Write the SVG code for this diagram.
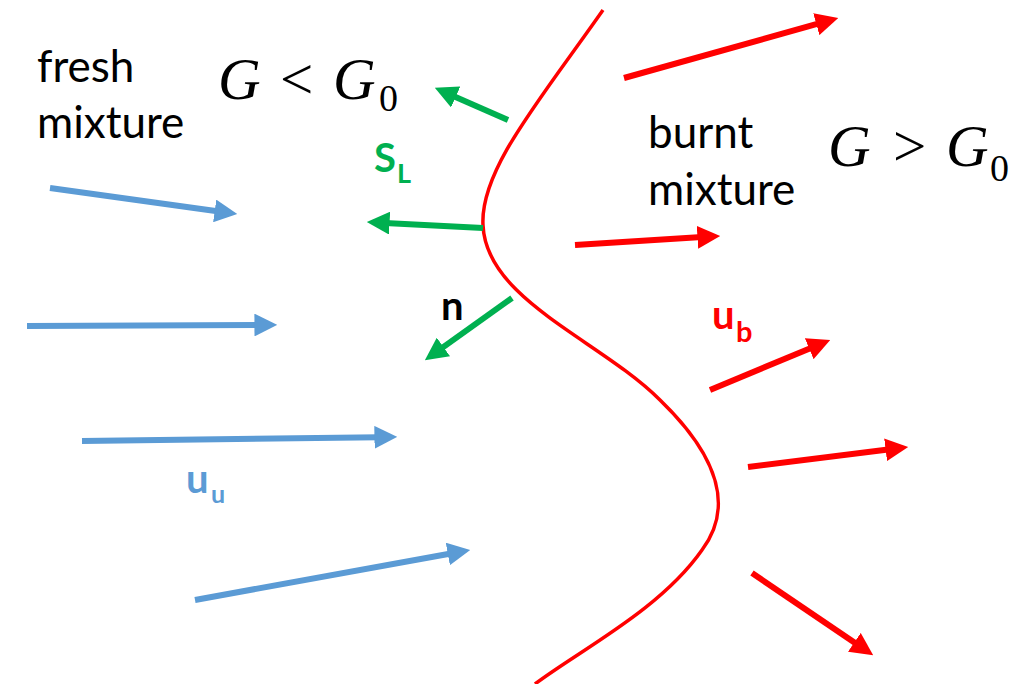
<svg xmlns="http://www.w3.org/2000/svg" width="1036" height="684" viewBox="0 0 1036 684">
<style>
.lbl{font-family:Lato,"Open Sans",sans-serif;font-size:44px;fill:#000}
.math{font-family:"Liberation Serif",serif;fill:#000;font-size:59px}
.it{font-style:italic}
.sub{font-size:38px}
.b{stroke:#5B9BD5;stroke-width:6;fill:none}
.g{stroke:#00B050;stroke-width:6;fill:none}
.r{stroke:#FF0000;stroke-width:6;fill:none}
.bold{font-family:Lato,"Open Sans",sans-serif;font-weight:bold}
</style>
<defs>
<marker id="hb" viewBox="0 0 10 10" refX="2" refY="5" markerWidth="3.8" markerHeight="3.8" orient="auto" markerUnits="strokeWidth"><path d="M0,0 L10,5 L0,10 z" fill="#5B9BD5"/></marker>
<marker id="hg" viewBox="0 0 10 10" refX="2" refY="5" markerWidth="3.8" markerHeight="3.8" orient="auto" markerUnits="strokeWidth"><path d="M0,0 L10,5 L0,10 z" fill="#00B050"/></marker>
<marker id="hr" viewBox="0 0 10 10" refX="2" refY="5" markerWidth="3.8" markerHeight="3.8" orient="auto" markerUnits="strokeWidth"><path d="M0,0 L10,5 L0,10 z" fill="#FF0000"/></marker>
</defs>
<rect width="1036" height="684" fill="#fff"/>
<g id="flame-front">
<path d="M603,10 C540,100 480,170 483,225 C486,300 600,340 660,400 C722,460 732,510 702,550 C660,610 580,650 535,684" fill="none" stroke="#FF0000" stroke-width="3.5"/>
</g>
<g id="connectors">
<line class="b" x1="50" y1="188" x2="219.2" y2="211.5" marker-end="url(#hb)"/>
<line class="b" x1="27" y1="326" x2="259" y2="325" marker-end="url(#hb)"/>
<line class="b" x1="82" y1="441" x2="379" y2="437.2" marker-end="url(#hb)"/>
<line class="b" x1="195" y1="600" x2="452.3" y2="553.2" marker-end="url(#hb)"/>
<line class="g" x1="508" y1="120" x2="451.5" y2="95.2" marker-end="url(#hg)"/>
<line class="g" x1="483" y1="228" x2="385" y2="222.9" marker-end="url(#hg)"/>
<line class="g" x1="512" y1="298" x2="439.7" y2="349.6" marker-end="url(#hg)"/>
<line class="r" x1="624" y1="78" x2="820.7" y2="22.9" marker-end="url(#hr)"/>
<line class="r" x1="575" y1="245" x2="702" y2="237.1" marker-end="url(#hr)"/>
<line class="r" x1="710" y1="390" x2="813.4" y2="346.9" marker-end="url(#hr)"/>
<line class="r" x1="748" y1="467" x2="890.1" y2="449.2" marker-end="url(#hr)"/>
<line class="r" x1="752" y1="573" x2="858.1" y2="644.9" marker-end="url(#hr)"/>
</g>
<g id="fresh-label">
<text class="lbl" x="37" y="82">fresh</text>
<text class="lbl" x="37" y="138">mixture</text>
</g>
<g id="burnt-label">
<text class="lbl" x="648" y="148">burnt</text>
<text class="lbl" x="648" y="205">mixture</text>
</g>
<g id="g-less">
<text class="math" y="99"><tspan class="it" x="218">G</tspan><tspan x="280">&lt;</tspan><tspan class="it" x="333">G</tspan><tspan class="sub" x="379" y="111">0</tspan></text>
</g>
<g id="g-greater">
<text class="math" y="166"><tspan class="it" x="828">G</tspan><tspan x="893">&gt;</tspan><tspan class="it" x="946">G</tspan><tspan class="sub" x="990" y="181">0</tspan></text>
</g>
<g id="sl-label">
<text class="bold" fill="#00B050"><tspan x="374" y="172" font-size="40">S</tspan><tspan x="397" y="183" font-size="27">L</tspan></text>
</g>
<g id="n-label">
<text class="bold" x="441" y="320" font-size="40" fill="#000">n</text>
</g>
<g id="ub-label">
<text class="bold" fill="#FF0000"><tspan x="712" y="329" font-size="40">u</tspan><tspan x="736" y="342" font-size="29">b</tspan></text>
</g>
<g id="uu-label">
<text class="bold" fill="#5B9BD5"><tspan x="186" y="493" font-size="40">u</tspan><tspan x="211" y="503" font-size="25">u</tspan></text>
</g>
</svg>
